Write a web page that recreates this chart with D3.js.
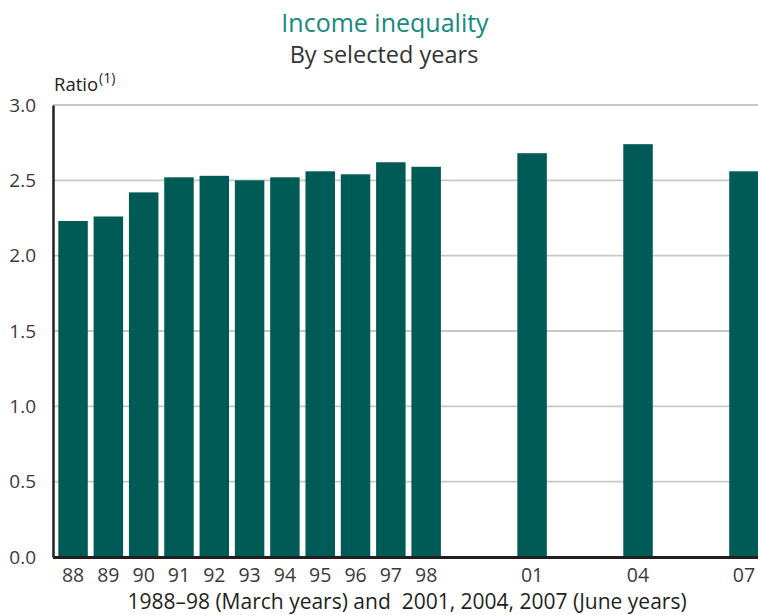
<!DOCTYPE html>
<html>
<head>
<meta charset="utf-8">
<script src="https://cdn.jsdelivr.net/npm/d3@7"></script>
<style>
  body { margin: 0; background: #fff; }
  svg { display: block; font-family: "Open Sans", "Noto Sans", sans-serif; }
</style>
</head>
<body>
<svg width="758" height="615"></svg>
<script>
// all years on the axis, only some have bars
const allYears = d3.range(1988, 2008);
const years  = [1988, 1989, 1990, 1991, 1992, 1993, 1994, 1995, 1996, 1997, 1998, 2001, 2004, 2007];
const ratios = [2.23, 2.26, 2.42, 2.52, 2.53, 2.50, 2.52, 2.56, 2.54, 2.62, 2.59, 2.68, 2.74, 2.56];
const yTicks = [0, 0.5, 1.0, 1.5, 2.0, 2.5, 3.0];

const svg = d3.select("svg");
const plotLeft = 53, plotTop = 105, plotBottom = 557;

const x = d3.scaleBand()
    .domain(allYears)
    .range([plotLeft, 764])
    .paddingInner(0.165)
    .paddingOuter(0.15);

const y = d3.scaleLinear()
    .domain([0, 3])
    .range([plotBottom, plotTop]);

// grid
svg.append("g")
  .selectAll("line")
  .data(yTicks.filter(d => d > 0))
  .join("line")
    .attr("x1", plotLeft)
    .attr("x2", 758)
    .attr("y1", d => y(d))
    .attr("y2", d => y(d))
    .attr("stroke", "#c8c8c8")
    .attr("stroke-width", 1.8);

// bars
const data = years.map((yr, i) => ({ yr, v: ratios[i] }));
svg.append("g")
  .selectAll("rect")
  .data(data)
  .join("rect")
    .attr("x", d => x(d.yr))
    .attr("width", x.bandwidth())
    .attr("y", d => y(d.v))
    .attr("height", d => y(0) - y(d.v))
    .attr("fill", "#005a55");

// y axis
const yAxis = svg.append("g")
    .attr("transform", `translate(${plotLeft},0)`)
    .call(d3.axisLeft(y).tickValues(yTicks).tickFormat(d3.format(".1f")).tickSize(0).tickPadding(17));
yAxis.select(".domain").attr("stroke", "#231f20").attr("stroke-width", 2.5);
yAxis.selectAll("text")
    .attr("font-size", 19)
    .attr("fill", "#3a3a3a")
    .attr("font-family", "Open Sans, sans-serif");

// x axis
const xAxis = svg.append("g")
    .attr("transform", `translate(0,${plotBottom})`)
    .call(d3.axisBottom(x).tickValues(years).tickFormat(d => String(d).slice(2)).tickSize(0).tickPadding(11));
xAxis.select(".domain").attr("stroke", "#231f20").attr("stroke-width", 3);
xAxis.selectAll("text")
    .attr("font-size", 19.5)
    .attr("fill", "#3a3a3a")
    .attr("font-family", "Open Sans, sans-serif");
xAxis.select(".domain").attr("d", `M${plotLeft},0.5H758`);

// titles
svg.append("text")
    .attr("x", 385).attr("y", 32)
    .attr("text-anchor", "middle")
    .attr("font-size", 25)
    .attr("fill", "#16897f")
    .text("Income inequality");

svg.append("text")
    .attr("x", 384).attr("y", 63)
    .attr("text-anchor", "middle")
    .attr("font-size", 23.5)
    .attr("fill", "#333")
    .text("By selected years");

const ratio = svg.append("text")
    .attr("x", 54).attr("y", 91)
    .attr("font-size", 18.5)
    .attr("fill", "#231f20");
ratio.append("tspan").text("Ratio");
ratio.append("tspan").attr("dx", 1).attr("dy", -8).attr("font-size", 14).text("(1)");

svg.append("text")
    .attr("x", 407).attr("y", 609)
    .attr("text-anchor", "middle")
    .attr("font-size", 21)
    .attr("font-weight", 500)
    .attr("fill", "#231f20")
    .style("white-space", "pre")
    .text("1988–98 (March years) and  2001, 2004, 2007 (June years)");
</script>
</body>
</html>
